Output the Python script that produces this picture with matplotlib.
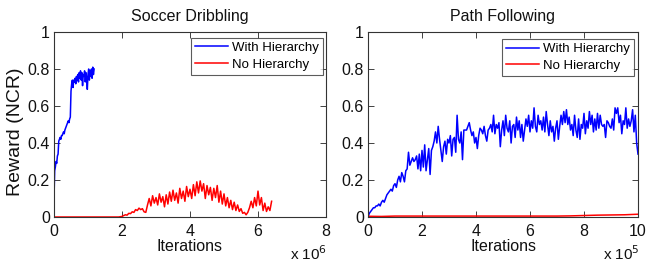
import numpy as np
import matplotlib
matplotlib.use("Agg")
import matplotlib.pyplot as plt

plt.rcParams['font.family'] = ['Liberation Sans', 'DejaVu Sans']

# ---------------- data ----------------
# Soccer Dribbling (x in units of 1e6 iterations)
soccer_hier_x = np.arange(0, 1.19, 0.02)
soccer_hier_y = [0.10, 0.25, 0.27, 0.30, 0.29, 0.33, 0.34, 0.41, 0.42, 0.43,
                 0.42, 0.44, 0.44, 0.45, 0.46, 0.45, 0.47, 0.48, 0.49, 0.50,
                 0.51, 0.52, 0.51, 0.53, 0.54, 0.68, 0.72, 0.74, 0.70, 0.74,
                 0.73, 0.75, 0.72, 0.76, 0.74, 0.77, 0.73, 0.78, 0.75, 0.79,
                 0.74, 0.78, 0.71, 0.77, 0.76, 0.79, 0.73, 0.78, 0.75, 0.69,
                 0.77, 0.80, 0.74, 0.79, 0.76, 0.80, 0.75, 0.81, 0.77, 0.80]

soccer_nohier_x = np.concatenate([[0.0, 1.9], np.arange(2.0, 6.41, 0.05)])
soccer_nohier_y = [0.0, 0.0,
                   0.003, 0.008, 0.012, 0.010, 0.020, 0.018, 0.028, 0.025, 0.040, 0.035,
                   0.048, 0.040, 0.045, 0.028, 0.025, 0.065, 0.100, 0.060, 0.115, 0.075,
                   0.105, 0.065, 0.125, 0.080, 0.110, 0.055, 0.120, 0.070, 0.135, 0.085,
                   0.145, 0.090, 0.130, 0.075, 0.155, 0.100, 0.140, 0.085, 0.165, 0.110,
                   0.150, 0.100, 0.175, 0.115, 0.190, 0.130, 0.195, 0.140, 0.180, 0.100,
                   0.170, 0.120, 0.160, 0.090, 0.155, 0.105, 0.170, 0.080, 0.140, 0.070,
                   0.125, 0.060, 0.105, 0.050, 0.090, 0.040, 0.080, 0.035, 0.065, 0.030,
                   0.045, 0.020, 0.025, 0.012, 0.025, 0.050, 0.085, 0.050, 0.105, 0.060,
                   0.140, 0.065, 0.105, 0.035, 0.075, 0.030, 0.055, 0.035, 0.085]

# Path Following (x in units of 1e5 iterations)
path_hier_x = np.arange(0, 10.001, 0.05)
path_hier_y = [0.00, 0.02, 0.03, 0.04, 0.05, 0.05, 0.06, 0.06, 0.07, 0.06, 0.08,
               0.09, 0.08, 0.10, 0.12, 0.13, 0.14, 0.15, 0.14, 0.17, 0.18,
               0.16, 0.20, 0.22, 0.19, 0.24, 0.22, 0.19, 0.25, 0.26, 0.35,
               0.28, 0.30, 0.32, 0.30, 0.31, 0.33, 0.26, 0.34, 0.25, 0.36,
               0.27, 0.39, 0.25, 0.31, 0.37, 0.23, 0.36, 0.38, 0.41, 0.46,
               0.40, 0.49, 0.42, 0.36, 0.30, 0.38, 0.41, 0.34, 0.42, 0.40,
               0.44, 0.33, 0.42, 0.43, 0.35, 0.55, 0.42, 0.40, 0.46, 0.31,
               0.47, 0.47, 0.47, 0.49, 0.51, 0.47, 0.44, 0.46, 0.40, 0.43,
               0.37, 0.44, 0.48, 0.47, 0.45, 0.49, 0.44, 0.41, 0.47, 0.48,
               0.50, 0.46, 0.55, 0.45, 0.50, 0.48, 0.51, 0.38, 0.47, 0.52,
               0.44, 0.55, 0.48, 0.46, 0.52, 0.40, 0.49, 0.50, 0.43, 0.54,
               0.47, 0.52, 0.43, 0.50, 0.41, 0.47, 0.53, 0.49, 0.55, 0.46,
               0.52, 0.48, 0.59, 0.49, 0.46, 0.55, 0.50, 0.52, 0.47, 0.54,
               0.46, 0.57, 0.50, 0.44, 0.52, 0.46, 0.49, 0.41, 0.48, 0.52,
               0.42, 0.49, 0.55, 0.50, 0.57, 0.51, 0.58, 0.50, 0.54, 0.47,
               0.50, 0.44, 0.55, 0.47, 0.43, 0.53, 0.42, 0.50, 0.48, 0.56,
               0.45, 0.52, 0.48, 0.57, 0.50, 0.55, 0.46, 0.53, 0.47, 0.56,
               0.48, 0.55, 0.50, 0.49, 0.50, 0.43, 0.52, 0.51, 0.49, 0.48,
               0.53, 0.47, 0.59, 0.56, 0.59, 0.51, 0.55, 0.45, 0.52, 0.50,
               0.59, 0.48, 0.53, 0.49, 0.52, 0.58, 0.46, 0.55, 0.40, 0.34]

path_nohier_x = [0, 0.5, 1, 2, 3, 4, 5, 6, 7, 7.5, 8, 8.5, 9, 9.5, 10]
path_nohier_y = [0.004, 0.003, 0.005, 0.005, 0.005, 0.005, 0.005, 0.005, 0.005,
                 0.006, 0.008, 0.010, 0.011, 0.012, 0.015]

titles = ["Soccer Dribbling", "Path Following"]
series_labels = ["With Hierarchy", "No Hierarchy"]
xlims = [(0, 8), (0, 10)]
xticks = [[0, 2, 4, 6, 8], [0, 2, 4, 6, 8, 10]]
exponents = ["6", "5"]
yticks = [0, 0.2, 0.4, 0.6, 0.8, 1]
ytick_labels = ["0", "0.2", "0.4", "0.6", "0.8", "1"]

# ---------------- figure ----------------
W, H = 647, 265
fig = plt.figure(figsize=(W / 100, H / 100), dpi=100)
ax1 = fig.add_axes([54 / W, (H - 217) / H, 272 / W, 185 / H])
ax2 = fig.add_axes([368 / W, (H - 217) / H, 270 / W, 185 / H])

data = [((soccer_hier_x, soccer_hier_y), (soccer_nohier_x, soccer_nohier_y)),
        ((path_hier_x, path_hier_y), (path_nohier_x, path_nohier_y))]
leg_anchor = [(0.989, 0.968), (0.985, 0.962)]

for i, ax in enumerate([ax1, ax2]):
    (hx, hy), (nx, ny) = data[i]
    ax.plot(hx, hy, color='#0000ff', lw=1.1, label=series_labels[0])
    ax.plot(nx, ny, color='#ff0000', lw=1.1, label=series_labels[1])
    ax.set_xlim(*xlims[i])
    ax.set_ylim(0, 1)
    ax.set_xticks(xticks[i])
    ax.set_xticklabels([str(t) for t in xticks[i]])
    ax.set_yticks(yticks)
    ax.set_yticklabels(ytick_labels)
    ax.tick_params(direction='in', top=True, right=True, length=4, width=0.6,
                   labelsize=11.5, colors='#222222', labelcolor='#111111')
    ax.tick_params(axis='x', pad=5)
    ax.tick_params(axis='y', pad=3)
    for s in ax.spines.values():
        s.set_linewidth(0.8)
        s.set_color('#333333')
    ax.set_title(titles[i], fontsize=11.5, pad=8, color='#111111')
    ax.set_xlabel("Iterations", fontsize=11.5, labelpad=0, color='#111111')
    ax.text(1.005, (217 - 263) / 185, r"x 10$^{%s}$" % exponents[i],
            transform=ax.transAxes, ha='right', va='bottom', fontsize=11,
            color='#111111')
    leg = ax.legend(loc='upper right', bbox_to_anchor=leg_anchor[i],
                    fontsize=9.5, frameon=True, fancybox=False,
                    borderpad=0.3, labelspacing=0.35, handlelength=2.5,
                    handletextpad=0.3, borderaxespad=0.0)
    leg.get_frame().set_edgecolor('#333333')
    leg.get_frame().set_linewidth(0.8)

ax1.set_ylabel("Reward (NCR)", fontsize=14, color='#111111')
ax1.yaxis.set_label_coords((24 - 54) / 272, 0.46)

fig.savefig("out.png", dpi=100)
